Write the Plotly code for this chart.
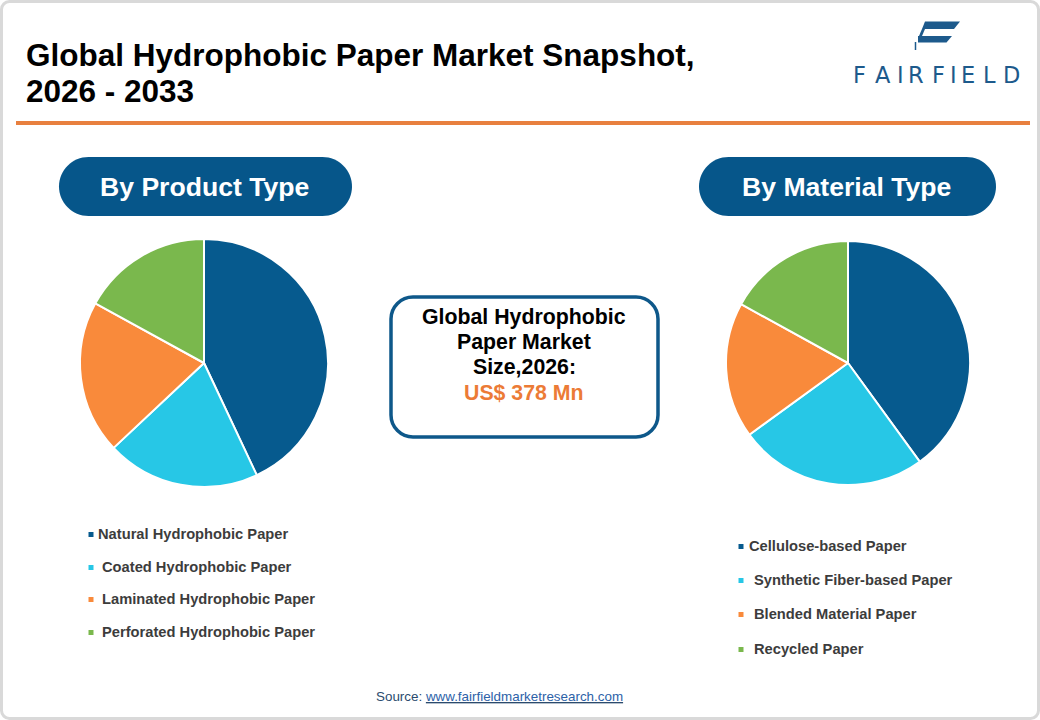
import plotly.graph_objects as go

W, H = 1040, 720

# ---------------- data ----------------
product_types = ["Natural Hydrophobic Paper", "Coated Hydrophobic Paper",
                 "Laminated Hydrophobic Paper", "Perforated Hydrophobic Paper"]
product_share = [43, 20, 20, 17]

material_types = ["Cellulose-based Paper", "Synthetic Fiber-based Paper",
                  "Blended Material Paper", "Recycled Paper"]
material_share = [40, 25, 18, 17]

slice_colors = ["#065a8e", "#27c7e6", "#f98a3b", "#7ab84d"]

title_lines = ["Global Hydrophobic Paper Market Snapshot,", "2026 - 2033"]
section_titles = ["By Product Type", "By Material Type"]
box_lines = ["Global Hydrophobic", "Paper Market", "Size,2026:"]
market_size = "US$ 378 Mn"
source_label = "Source: "
source_url = "www.fairfieldmarketresearch.com"
logo_text = "FAIRFIELD"

FONT = "Arial, Liberation Sans, sans-serif"
NAVY = "#06568a"
ORANGE = "#e8803f"


def X(x):
    return x / W


def Y(y):
    return 1 - y / H


def P(x, y):
    return f"{X(x):.5f},{Y(y):.5f}"


def rr_path(x0, y0, x1, y1, r):
    k = 0.5523 * r
    return (f"M {P(x0 + r, y0)} L {P(x1 - r, y0)} "
            f"C {P(x1 - r + k, y0)} {P(x1, y0 + r - k)} {P(x1, y0 + r)} "
            f"L {P(x1, y1 - r)} "
            f"C {P(x1, y1 - r + k)} {P(x1 - r + k, y1)} {P(x1 - r, y1)} "
            f"L {P(x0 + r, y1)} "
            f"C {P(x0 + r - k, y1)} {P(x0, y1 - r + k)} {P(x0, y1 - r)} "
            f"L {P(x0, y0 + r)} "
            f"C {P(x0, y0 + r - k)} {P(x0 + r - k, y0)} {P(x0 + r, y0)} Z")


def poly_path(pts):
    return "M " + " L ".join(P(x, y) for x, y in pts) + " Z"


fig = go.Figure()

# ---------------- pies ----------------
fig.add_trace(go.Pie(
    labels=product_types, values=product_share, sort=False,
    direction="clockwise", rotation=0, textinfo="none",
    marker=dict(colors=slice_colors, line=dict(color="white", width=2)),
    domain=dict(x=[X(80), X(328)], y=[Y(487), Y(239)]),
    showlegend=False, hoverinfo="label+percent"))

fig.add_trace(go.Pie(
    labels=material_types, values=material_share, sort=False,
    direction="clockwise", rotation=0, textinfo="none",
    marker=dict(colors=slice_colors, line=dict(color="white", width=2)),
    domain=dict(x=[X(726), X(970)], y=[Y(485), Y(241)]),
    showlegend=False, hoverinfo="label+percent"))

shapes = []
annotations = []

# outer frame
shapes.append(dict(type="path", xref="paper", yref="paper",
                   path=rr_path(1.5, 1.5, W - 1.5, H - 1.5, 8),
                   line=dict(color="#d9d9d9", width=3), fillcolor="rgba(0,0,0,0)",
                   layer="above"))

# orange rule
shapes.append(dict(type="rect", xref="paper", yref="paper",
                   x0=X(16), x1=X(1030), y0=Y(125), y1=Y(121),
                   fillcolor=ORANGE, line=dict(width=0)))

# section pills
pill_boxes = [(59, 157, 352, 216), (699, 157, 996, 216)]
for (x0, y0, x1, y1), label in zip(pill_boxes, section_titles):
    shapes.append(dict(type="path", xref="paper", yref="paper",
                       path=rr_path(x0, y0, x1, y1, (y1 - y0) / 2),
                       fillcolor=NAVY, line=dict(width=0), layer="below"))
    annotations.append(dict(xref="paper", yref="paper",
                            x=X((x0 + x1) / 2 - 1), y=Y((y0 + y1) / 2),
                            xanchor="center", yanchor="middle", showarrow=False,
                            text=f"<b>{label}</b>",
                            font=dict(family=FONT, size=26.6, color="white")))

# centre box
shapes.append(dict(type="path", xref="paper", yref="paper",
                   path=rr_path(391, 297, 658, 437, 22),
                   fillcolor="white", line=dict(color="#0e588a", width=3.5),
                   layer="below"))
for line, yy in zip(box_lines, [317, 342, 367]):
    annotations.append(dict(xref="paper", yref="paper", x=X(524), y=Y(yy),
                            xanchor="center", yanchor="middle", showarrow=False,
                            text=f"<b>{line}</b>",
                            font=dict(family=FONT, size=21.3, color="#000000")))
annotations.append(dict(xref="paper", yref="paper", x=X(524), y=Y(393),
                        xanchor="center", yanchor="middle", showarrow=False,
                        text=f"<b>{market_size}</b>",
                        font=dict(family=FONT, size=21.3, color="#ec7b36")))

# title
for line, yy in zip(title_lines, [55, 91]):
    annotations.append(dict(xref="paper", yref="paper", x=X(25), y=Y(yy),
                            xanchor="left", yanchor="middle", showarrow=False,
                            text=f"<b>{line}</b>", borderpad=0,
                            font=dict(family=FONT, size=31.5, color="#000000")))

# legends (built from category lists and colours)
legend_specs = [
    (product_types, [534, 567, 599, 632], 91, [96, 100, 100, 100]),
    (material_types, [546, 580, 614, 649], 741, [747, 752, 752, 752]),
]
for labels, ys, mx, txs in legend_specs:
    for lab, col, yy, tx in zip(labels, slice_colors, ys, txs):
        shapes.append(dict(type="rect", xref="paper", yref="paper",
                           x0=X(mx - 2.5), x1=X(mx + 2.5), y0=Y(yy + 3), y1=Y(yy - 2),
                           fillcolor=col, line=dict(width=0)))
        annotations.append(dict(xref="paper", yref="paper", x=X(tx), y=Y(yy),
                                xanchor="left", yanchor="middle", showarrow=False,
                                text=f"<b>{lab}</b>",
                                font=dict(family=FONT, size=14.7, color="#3c3c3c")))

# source
annotations.append(dict(xref="paper", yref="paper", x=X(499), y=Y(696),
                        xanchor="center", yanchor="middle", showarrow=False,
                        text=(f"<span style='color:#2b4b6e'>{source_label}</span>"
                              f"<u><span style='color:#2d62a8'>{source_url}</span></u>"),
                        font=dict(family=FONT, size=13.4, color="#2b4b6e")))

# logo
LOGO = "#1d5a8c"
letter_x = [859.5, 883.4, 900.3, 916.2, 938.6, 953.5, 968.4, 989.3, 1011.7]
for ch, lx in zip(logo_text, letter_x):
    annotations.append(dict(xref="paper", yref="paper", x=X(lx), y=Y(75),
                            xanchor="center", yanchor="middle", showarrow=False,
                            text=ch, font=dict(family="DejaVu Sans", size=22.5, color=LOGO)))
shapes.append(dict(type="path", xref="paper", yref="paper",
                   path=poly_path([(925, 21.5), (960, 21.5), (954, 29), (922, 29)]),
                   fillcolor=LOGO, line=dict(width=0)))
shapes.append(dict(type="path", xref="paper", yref="paper",
                   path=poly_path([(922, 29), (925, 29), (922, 36), (919, 36)]),
                   fillcolor=LOGO, line=dict(width=0)))
shapes.append(dict(type="path", xref="paper", yref="paper",
                   path=poly_path([(918, 36), (952, 36), (946.5, 42.5), (918, 42.5)]),
                   fillcolor=LOGO, line=dict(width=0)))
shapes.append(dict(type="line", xref="paper", yref="paper",
                   x0=X(915.5), x1=X(915.5), y0=Y(42), y1=Y(50),
                   line=dict(color=LOGO, width=1.5)))

fig.update_layout(
    width=W, height=H, margin=dict(l=0, r=0, t=0, b=0),
    paper_bgcolor="white", plot_bgcolor="white",
    shapes=shapes, annotations=annotations,
    font=dict(family=FONT),
)

fig.write_html("out.html", config={"displayModeBar": False},
               post_script="document.body.style.margin='0px';")
